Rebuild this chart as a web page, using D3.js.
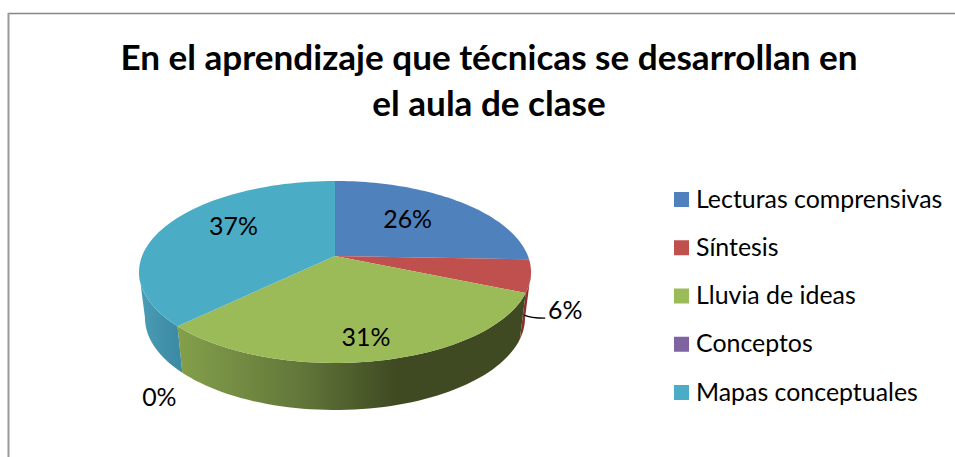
<!DOCTYPE html>
<html><head><meta charset="utf-8">
<script src="https://cdn.jsdelivr.net/npm/d3@7"></script>
<style>html,body{margin:0;padding:0;background:#fff}svg{display:block}text{font-family:Lato,Carlito,sans-serif;fill:#000}</style>
</head><body><svg id="c" width="955" height="457"></svg>
<script>
const titleLines = ["En el aprendizaje que técnicas se desarrollan en", "el aula de clase"];
const categories = ["Lecturas comprensivas", "Síntesis", "Lluvia de ideas", "Conceptos", "Mapas conceptuales"];
const values = [25.6, 5.8, 31.3, 0, 37.3];
const colors = ["#4f81bd", "#c0504d", "#9bbb59", "#8064a2", "#4bacc6"];
const wallColors = ["#3b5f8c", "#8a2f2d", "url(#gGreen)", "#5d4a78", "url(#gTeal)"];

const svg = d3.select("#c");
const defs = svg.append("defs");
function grad(id, stops){
  const g = defs.append("linearGradient").attr("id", id).attr("gradientUnits","userSpaceOnUse")
    .attr("x1", stops[0][0]).attr("x2", stops[stops.length-1][0]).attr("y1",0).attr("y2",0);
  const s = d3.scaleLinear().domain([stops[0][0], stops[stops.length-1][0]]).range([0,1]);
  stops.forEach(d => g.append("stop").attr("offset", s(d[0])).attr("stop-color", d[1]));
}
grad("gGreen", [[177,"#84a04a"],[300,"#62773a"],[395,"#3f4a22"],[530,"#3f4a22"]]);
grad("gTeal", [[140,"#4b9cb6"],[181,"#3b89a2"]]);

// frame
svg.append("line").attr("x1",8).attr("x2",955).attr("y1",13.5).attr("y2",13.5).attr("stroke","#868686").attr("stroke-width",1.4);
svg.append("line").attr("x1",8.5).attr("x2",8.5).attr("y1",13).attr("y2",457).attr("stroke","#9a9a9a").attr("stroke-width",2);

// title
svg.selectAll("text.t").data(titleLines).join("text").attr("class","t")
  .attr("x",489).attr("y",(d,i)=>70+i*46).attr("text-anchor","middle")
  .attr("font-size",35.1).attr("font-weight",700).text(d=>d);

// perspective pie geometry
const persp = 0.176;
const topDisc = {cx:335, cy:272, rx:196, ry:91};
const botDisc = {cx:335, cy:318, rx:190, ry:92};
function project(disc, r, th){
  const x = r*Math.sin(th), y = -r*Math.cos(th), w = 1 - persp*y;
  return [disc.cx + disc.rx*x*Math.sqrt(1-persp*persp)/w, disc.cy + disc.ry*(y-persp)/w];
}
const arcs = d3.pie().sort(null).value(d=>d)(values);
const visFrom = Math.acos(-persp), visTo = 2*Math.PI - visFrom;
const arcPts = (disc, a0, a1) => d3.range(0,61).map(i=>project(disc,1,a0+(a1-a0)*i/60));
const line = d3.line();

// side walls
svg.append("g").selectAll("path").data(arcs.filter(d=>d.value>0 && d.endAngle>visFrom && d.startAngle<visTo)).join("path")
  .attr("d", d=>{
    const a0=Math.max(d.startAngle,visFrom), a1=Math.min(d.endAngle,visTo);
    return line(arcPts(topDisc,a0,a1).concat(arcPts(botDisc,a0,a1).reverse()))+"Z";
  })
  .attr("fill", d=>wallColors[d.index]);

// top faces
const apex = project(topDisc,0,0);
svg.append("g").selectAll("path").data(arcs.filter(d=>d.value>0)).join("path")
  .attr("d", d=>line([apex].concat(arcPts(topDisc,d.startAngle,d.endAngle)))+"Z")
  .attr("fill", d=>colors[d.index]);

// labels
const pct = v => Math.round(v)+"%";
const mid = d => (d.startAngle+d.endAngle)/2;
const labelRadius = [0.55, null, 0.8, null, 0.6];
const labelNudge = [[1,-6],[41,-7],[-2,0],[-23,23],[1,-11]];
const lerp = (p,q,t)=>[p[0]+(q[0]-p[0])*t,p[1]+(q[1]-p[1])*t];
const anchor = d => {
  if (labelRadius[d.index]!==null) return project(topDisc,labelRadius[d.index],mid(d));
  if (d.index===1) return lerp(project(topDisc,1,d.endAngle-0.05),project(botDisc,1,d.endAngle-0.05),0.6);
  return project(botDisc,1,d.startAngle);
};
const lblFont = 24.9;
svg.append("g").selectAll("text").data(arcs).join("text")
  .attr("x",d=>anchor(d)[0]+labelNudge[d.index][0]).attr("y",d=>anchor(d)[1]+labelNudge[d.index][1])
  .attr("text-anchor","middle").attr("dominant-baseline","central")
  .attr("font-size",lblFont).text(d=>pct(d.value));

// leader line for the small slice
const lp = anchor(arcs[1]);
svg.append("path").attr("fill","none").attr("stroke","#000").attr("stroke-width",1.3)
  .attr("d",`M${lp[0]},${lp[1]-1}C${lp[0]+4},${lp[1]+1} ${lp[0]+8},${lp[1]+2} ${lp[0]+21},${lp[1]+2}`);

// legend
const ly = d3.scalePoint().domain(categories).range([199.5,392.5]);
const lg = svg.append("g").selectAll("g").data(categories).join("g").attr("transform",d=>`translate(674,${ly(d)})`);
lg.append("rect").attr("y",-7.5).attr("width",15).attr("height",15).attr("fill",(d,i)=>colors[i]);
lg.append("text").attr("x",22).attr("y",-2).attr("dominant-baseline","central").attr("font-size",lblFont).text(d=>d);
</script></body></html>
